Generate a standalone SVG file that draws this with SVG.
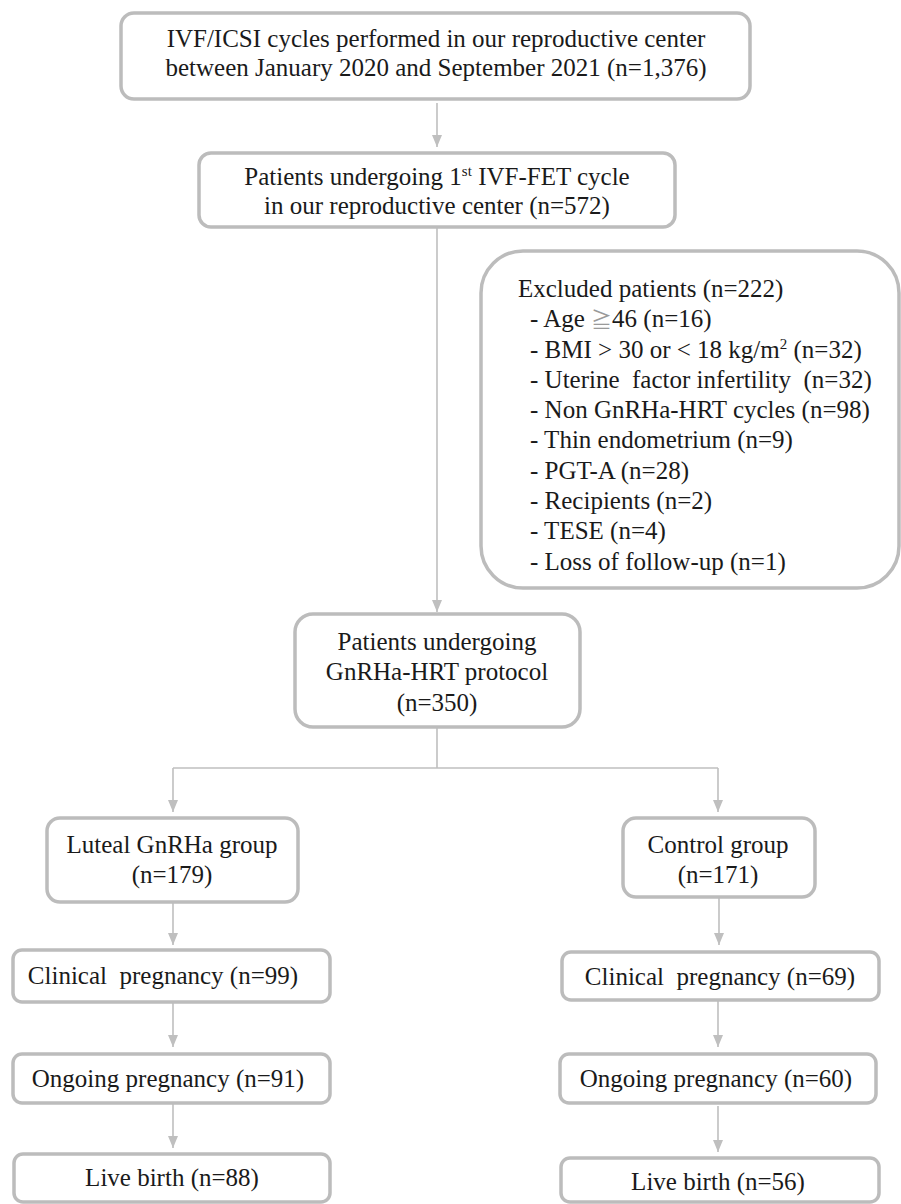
<svg xmlns="http://www.w3.org/2000/svg" width="901" height="1204" viewBox="0 0 901 1204">
<style>
.box{fill:#ffffff;stroke:#bcbcbc;stroke-width:3.5}
.t{font-family:'Liberation Serif','DejaVu Serif',serif;font-size:25px;fill:#1a1a1a}
.c{text-anchor:middle}
.sup{font-size:15px}
.ge{fill:#9a9a9a;font-family:'Noto Sans CJK JP',sans-serif;font-size:21px}
.ln{fill:none;stroke:#bfbfbf;stroke-width:1.6}
</style>
<defs>
<marker id="ah" markerUnits="userSpaceOnUse" markerWidth="12" markerHeight="12" viewBox="0 0 12 12" refX="12" refY="6" orient="auto">
<path d="M0,1 L12,6 L0,11 Z" fill="#bfbfbf"/>
</marker>
</defs>
<rect width="901" height="1204" fill="#ffffff"/>
<g id="connectors">
<line class="ln" x1="437" y1="103" x2="437" y2="147" marker-end="url(#ah)"/>
<line class="ln" x1="437" y1="228" x2="437" y2="612" marker-end="url(#ah)"/>
<line class="ln" x1="437" y1="728" x2="437" y2="768"/>
<line class="ln" x1="173" y1="768" x2="718" y2="768"/>
<line class="ln" x1="173" y1="768" x2="173" y2="812" marker-end="url(#ah)"/>
<line class="ln" x1="718" y1="768" x2="718" y2="812" marker-end="url(#ah)"/>
<line class="ln" x1="173" y1="903" x2="173" y2="945" marker-end="url(#ah)"/>
<line class="ln" x1="173" y1="1003" x2="173" y2="1047" marker-end="url(#ah)"/>
<line class="ln" x1="173" y1="1104" x2="173" y2="1148" marker-end="url(#ah)"/>
<line class="ln" x1="719" y1="898" x2="719" y2="945" marker-end="url(#ah)"/>
<line class="ln" x1="718" y1="1001" x2="718" y2="1047" marker-end="url(#ah)"/>
<line class="ln" x1="718" y1="1106" x2="718" y2="1152" marker-end="url(#ah)"/>
</g>
<g id="n_cycles">
<rect class="box" x="121" y="13" width="629" height="86" rx="13"/>
<text class="t c" x="436" y="47">IVF/ICSI cycles performed in our reproductive center</text>
<text class="t c" x="436" y="76">between January 2020 and September 2021 (n=1,376)</text>
</g>
<g id="n_first_fet">
<rect class="box" x="199" y="153" width="476" height="74" rx="12"/>
<text class="t c" x="437" y="185">Patients undergoing 1<tspan class="sup" dy="-9">st</tspan><tspan dy="9"> IVF-FET cycle</tspan></text>
<text class="t c" x="437" y="214">in our reproductive center (n=572)</text>
</g>
<g id="n_excluded">
<rect class="box" x="481" y="251" width="418" height="337" rx="42"/>
<text class="t" x="518" y="297">Excluded patients (n=222)</text>
<text class="t" x="530" y="327">- Age <tspan class="ge">≧</tspan>46 (n=16)</text>
<text class="t" x="530" y="358">- BMI &gt; 30 or &lt; 18 kg/m<tspan class="sup" dy="-9">2</tspan><tspan dy="9"> (n=32)</tspan></text>
<text class="t" x="530" y="388" xml:space="preserve">- Uterine  factor infertility  (n=32)</text>
<text class="t" x="530" y="418">- Non GnRHa-HRT cycles (n=98)</text>
<text class="t" x="530" y="448">- Thin endometrium (n=9)</text>
<text class="t" x="530" y="479">- PGT-A (n=28)</text>
<text class="t" x="530" y="509">- Recipients (n=2)</text>
<text class="t" x="530" y="539">- TESE (n=4)</text>
<text class="t" x="530" y="570">- Loss of follow-up (n=1)</text>
</g>
<g id="n_gnrha_hrt">
<rect class="box" x="295" y="614" width="285" height="113" rx="18"/>
<text class="t c" x="437" y="650">Patients undergoing</text>
<text class="t c" x="437" y="680">GnRHa-HRT protocol</text>
<text class="t c" x="437" y="711">(n=350)</text>
</g>
<g id="n_luteal">
<rect class="box" x="47" y="818" width="251" height="84" rx="13"/>
<text class="t c" x="172" y="853">Luteal GnRHa group</text>
<text class="t c" x="172" y="883">(n=179)</text>
</g>
<g id="n_control">
<rect class="box" x="623" y="818" width="192" height="79" rx="13"/>
<text class="t c" x="718" y="853">Control group</text>
<text class="t c" x="718" y="883">(n=171)</text>
</g>
<g id="n_clin_l">
<rect class="box" x="13" y="950" width="317" height="52" rx="9"/>
<text class="t c" x="163" y="984" xml:space="preserve">Clinical  pregnancy (n=99)</text>
</g>
<g id="n_ong_l">
<rect class="box" x="13" y="1054" width="317" height="49" rx="9"/>
<text class="t c" x="168" y="1087">Ongoing pregnancy (n=91)</text>
</g>
<g id="n_live_l">
<rect class="box" x="14" y="1154" width="316" height="48" rx="9"/>
<text class="t c" x="172" y="1186">Live birth (n=88)</text>
</g>
<g id="n_clin_r">
<rect class="box" x="562" y="952" width="317" height="48" rx="9"/>
<text class="t c" x="720" y="985" xml:space="preserve">Clinical  pregnancy (n=69)</text>
</g>
<g id="n_ong_r">
<rect class="box" x="560" y="1054" width="316" height="49" rx="9"/>
<text class="t c" x="716" y="1087">Ongoing pregnancy (n=60)</text>
</g>
<g id="n_live_r">
<rect class="box" x="561" y="1158" width="318" height="44" rx="9"/>
<text class="t c" x="718" y="1190">Live birth (n=56)</text>
</g>
</svg>
